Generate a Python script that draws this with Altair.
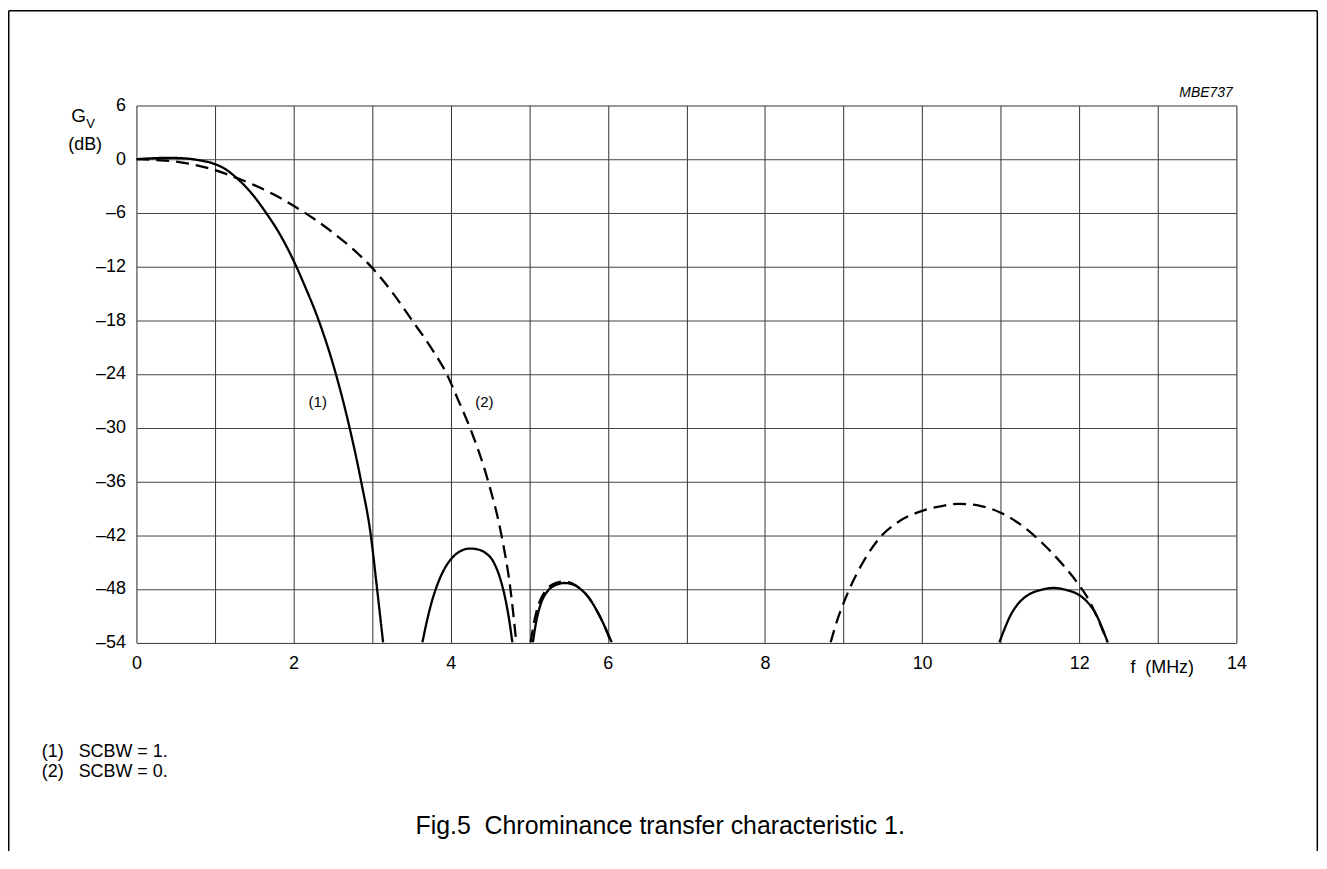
import altair as alt
import pandas as pd

FONT = "Liberation Sans"

# ---- curve (1): SCBW = 1 (solid) ----
f1a = [0, 0.2, 0.4, 0.6, 0.8, 1.0, 1.13, 1.268, 1.45, 1.649, 1.82, 2.0, 2.15, 2.317, 2.537, 2.713, 2.86,
       2.983, 3.063, 3.14]
v1a = [0, 0.1, 0.15, 0.1, -0.12, -0.55, -1.1, -2.04, -3.65, -5.98, -8.3, -11.33, -14.3, -17.94, -23.95, -30,
       -36, -42, -48, -54]
f1b = [3.64, 3.695, 3.745, 3.845, 3.945, 4.045, 4.145, 4.245, 4.345, 4.445, 4.545, 4.645, 4.695, 4.745, 4.785]
v1b = [-54, -51.7, -49.9, -47.2, -45.4, -44.3, -43.7, -43.5, -43.6, -44.0, -45.0, -47.3, -49.1, -51.5, -54]
f1c = [5.046, 5.09, 5.15, 5.23, 5.33, 5.447, 5.55, 5.64, 5.75, 5.87, 5.96, 6.05]
v1c = [-54, -51.6, -49.6, -48.3, -47.6, -47.35, -47.5, -47.95, -48.9, -50.6, -52.2, -54]
f1d = [10.983, 11.053, 11.123, 11.193, 11.273, 11.356, 11.523, 11.673, 11.823, 11.99, 12.073, 12.153,
       12.223, 12.293, 12.363]
v1d = [-54, -52.4, -51.0, -50.0, -49.2, -48.65, -48.1, -47.9, -48.1, -48.65, -49.2, -50.0, -51.0, -52.4, -54]

# ---- curve (2): SCBW = 0 (dashed) ----
f2a = [0, 0.25, 0.5, 0.75, 1.0, 1.205, 1.5, 1.75, 2.0, 2.25, 2.5, 2.75, 2.981, 3.25, 3.5, 3.79, 3.95,
       4.1, 4.245, 4.477, 4.646, 4.76, 4.835]
v2a = [0, -0.1, -0.26, -0.65, -1.23, -1.86, -2.9, -3.95, -5.2, -6.6, -8.2, -10, -11.95, -14.8, -17.9, -21.6, -24,
       -27.0, -30, -36, -42, -48, -54]
f2b = [5.017, 5.06, 5.12, 5.2, 5.3, 5.426, 5.55, 5.65, 5.75, 5.87, 5.96, 6.04]
v2b = [-54, -51.8, -49.7, -48.3, -47.5, -47.2, -47.4, -48.0, -48.9, -50.6, -52.2, -54]
f2c = [8.835, 8.92, 9.0, 9.076, 9.25, 9.47, 9.7, 10.0, 10.25, 10.47, 10.75, 11.0, 11.2, 11.42, 11.6,
       11.8, 12.0, 12.1, 12.22, 12.36]
v2c = [-54, -51.5, -49.6, -48, -45.0, -42.2, -40.5, -39.3, -38.75, -38.5, -38.75, -39.5, -40.5, -42, -43.5,
       -45.4, -47.6, -48.9, -51.0, -54]

curve_labels = ["(1)", "(2)"]
curve_label_f = [2.308, 4.428]
curve_label_v = [-27.7, -27.7]

x_ticks = list(range(0, 15))
y_ticks = list(range(-54, 7, 6))

segments = [
    ("1", "a", f1a, v1a), ("1", "b", f1b, v1b), ("1", "c", f1c, v1c), ("1", "d", f1d, v1d),
    ("2", "a", f2a, v2a), ("2", "b", f2b, v2b), ("2", "c", f2c, v2c),
]
rows = []
for curve, seg, fs, vs in segments:
    for i, (f, v) in enumerate(zip(fs, vs)):
        rows.append({"curve": curve, "seg": curve + seg, "f": f, "gv": v, "order": i})
df = pd.DataFrame(rows)

x_scale = alt.Scale(domain=[0, 14], nice=False, zero=False)
y_scale = alt.Scale(domain=[-54, 6], nice=False, zero=False)

x_axis = alt.Axis(values=x_ticks, labelExpr="datum.value % 2 == 0 ? '' + datum.value : ''",
                  grid=True, gridColor="#333333", gridWidth=1, domain=False, ticks=False,
                  labelFont=FONT, labelFontSize=18, labelColor="black", labelPadding=12,
                  labelFlush=False, labelOverlap=False, title=None)
y_axis = alt.Axis(values=y_ticks, labelExpr="datum.value < 0 ? '\u2013' + abs(datum.value) : '' + datum.value",
                  grid=True, gridColor="#444444", gridWidth=1, domain=False, ticks=False,
                  labelFont=FONT, labelFontSize=18, labelColor="black", labelPadding=11,
                  labelFlush=False, labelOverlap=False, title=None)

lines = alt.Chart(df).mark_line(clip=True, strokeWidth=2.3, color="black", interpolate="monotone").encode(
    x=alt.X("f:Q", scale=x_scale, axis=x_axis),
    y=alt.Y("gv:Q", scale=y_scale, axis=y_axis),
    detail="seg:N",
    order="order:Q",
    strokeDash=alt.StrokeDash("curve:N", scale=alt.Scale(domain=["1", "2"], range=[[1, 0], [13, 7]]), legend=None),
)

lab_df = pd.DataFrame({"t": curve_labels, "f": curve_label_f, "gv": curve_label_v})
curve_text = alt.Chart(lab_df).mark_text(font=FONT, fontSize=15, color="black", align="center",
                                          baseline="alphabetic").encode(
    x=alt.X("f:Q", scale=x_scale), y=alt.Y("gv:Q", scale=y_scale), text="t:N")


def note(text, x, y, size=18, align="left", style="normal"):
    return alt.Chart(pd.DataFrame({"a": [0]})).mark_text(
        text=text, font=FONT, fontSize=size, align=align, baseline="alphabetic",
        color="black", fontStyle=style).encode(x=alt.value(x), y=alt.value(y))


notes = [
    note("G", -58, 16.7, size=19, align="center"),
    note("V", -46, 22.7, size=13, align="center"),
    note("(dB)", -51.5, 44.9, align="center"),
    note("MBE737", 1101.3, -9, size=14, align="right", style="italic"),
    note("f\u00a0\u00a0(MHz)", 1030.5, 570.5, align="center"),
    note("(1)", -95, 654.3),
    note("SCBW = 1.", -58, 654.3),
    note("(2)", -95, 674.3),
    note("SCBW = 0.", -58, 674.3),
    note("Fig.5\u00a0\u00a0Chrominance transfer characteristic 1.", 280.3, 731.7, size=25),
]

CANVAS_H = 845
PAD_L, PAD_T = 129, 96
PLOT_W, PLOT_H = 1105, 539.5


def frame_rule(x, x2, y, y2):
    return alt.Chart(pd.DataFrame({"a": [0]})).mark_rule(color="black", strokeWidth=1.5).encode(
        x=alt.value(x), x2=alt.value(x2), y=alt.value(y), y2=alt.value(y2))


frame = [
    frame_rule(-128.25, 1186.3, -95.25, -95.25),
    frame_rule(-128.25, -128.25, -95.25, CANVAS_H - PAD_T),
    frame_rule(1186.3, 1186.3, -95.25, CANVAS_H - PAD_T),
]

chart = alt.layer(lines, curve_text, *notes, *frame).properties(
    width=PLOT_W, height=PLOT_H,
    padding={"left": PAD_L, "top": PAD_T, "right": 1317 - PAD_L - PLOT_W, "bottom": CANVAS_H - PAD_T - PLOT_H},
    autosize=alt.AutoSizeParams(type="none"),
).configure_view(stroke=None).configure(background="white")

chart.save("out.html", embed_options={"renderer": "svg", "actions": False})
